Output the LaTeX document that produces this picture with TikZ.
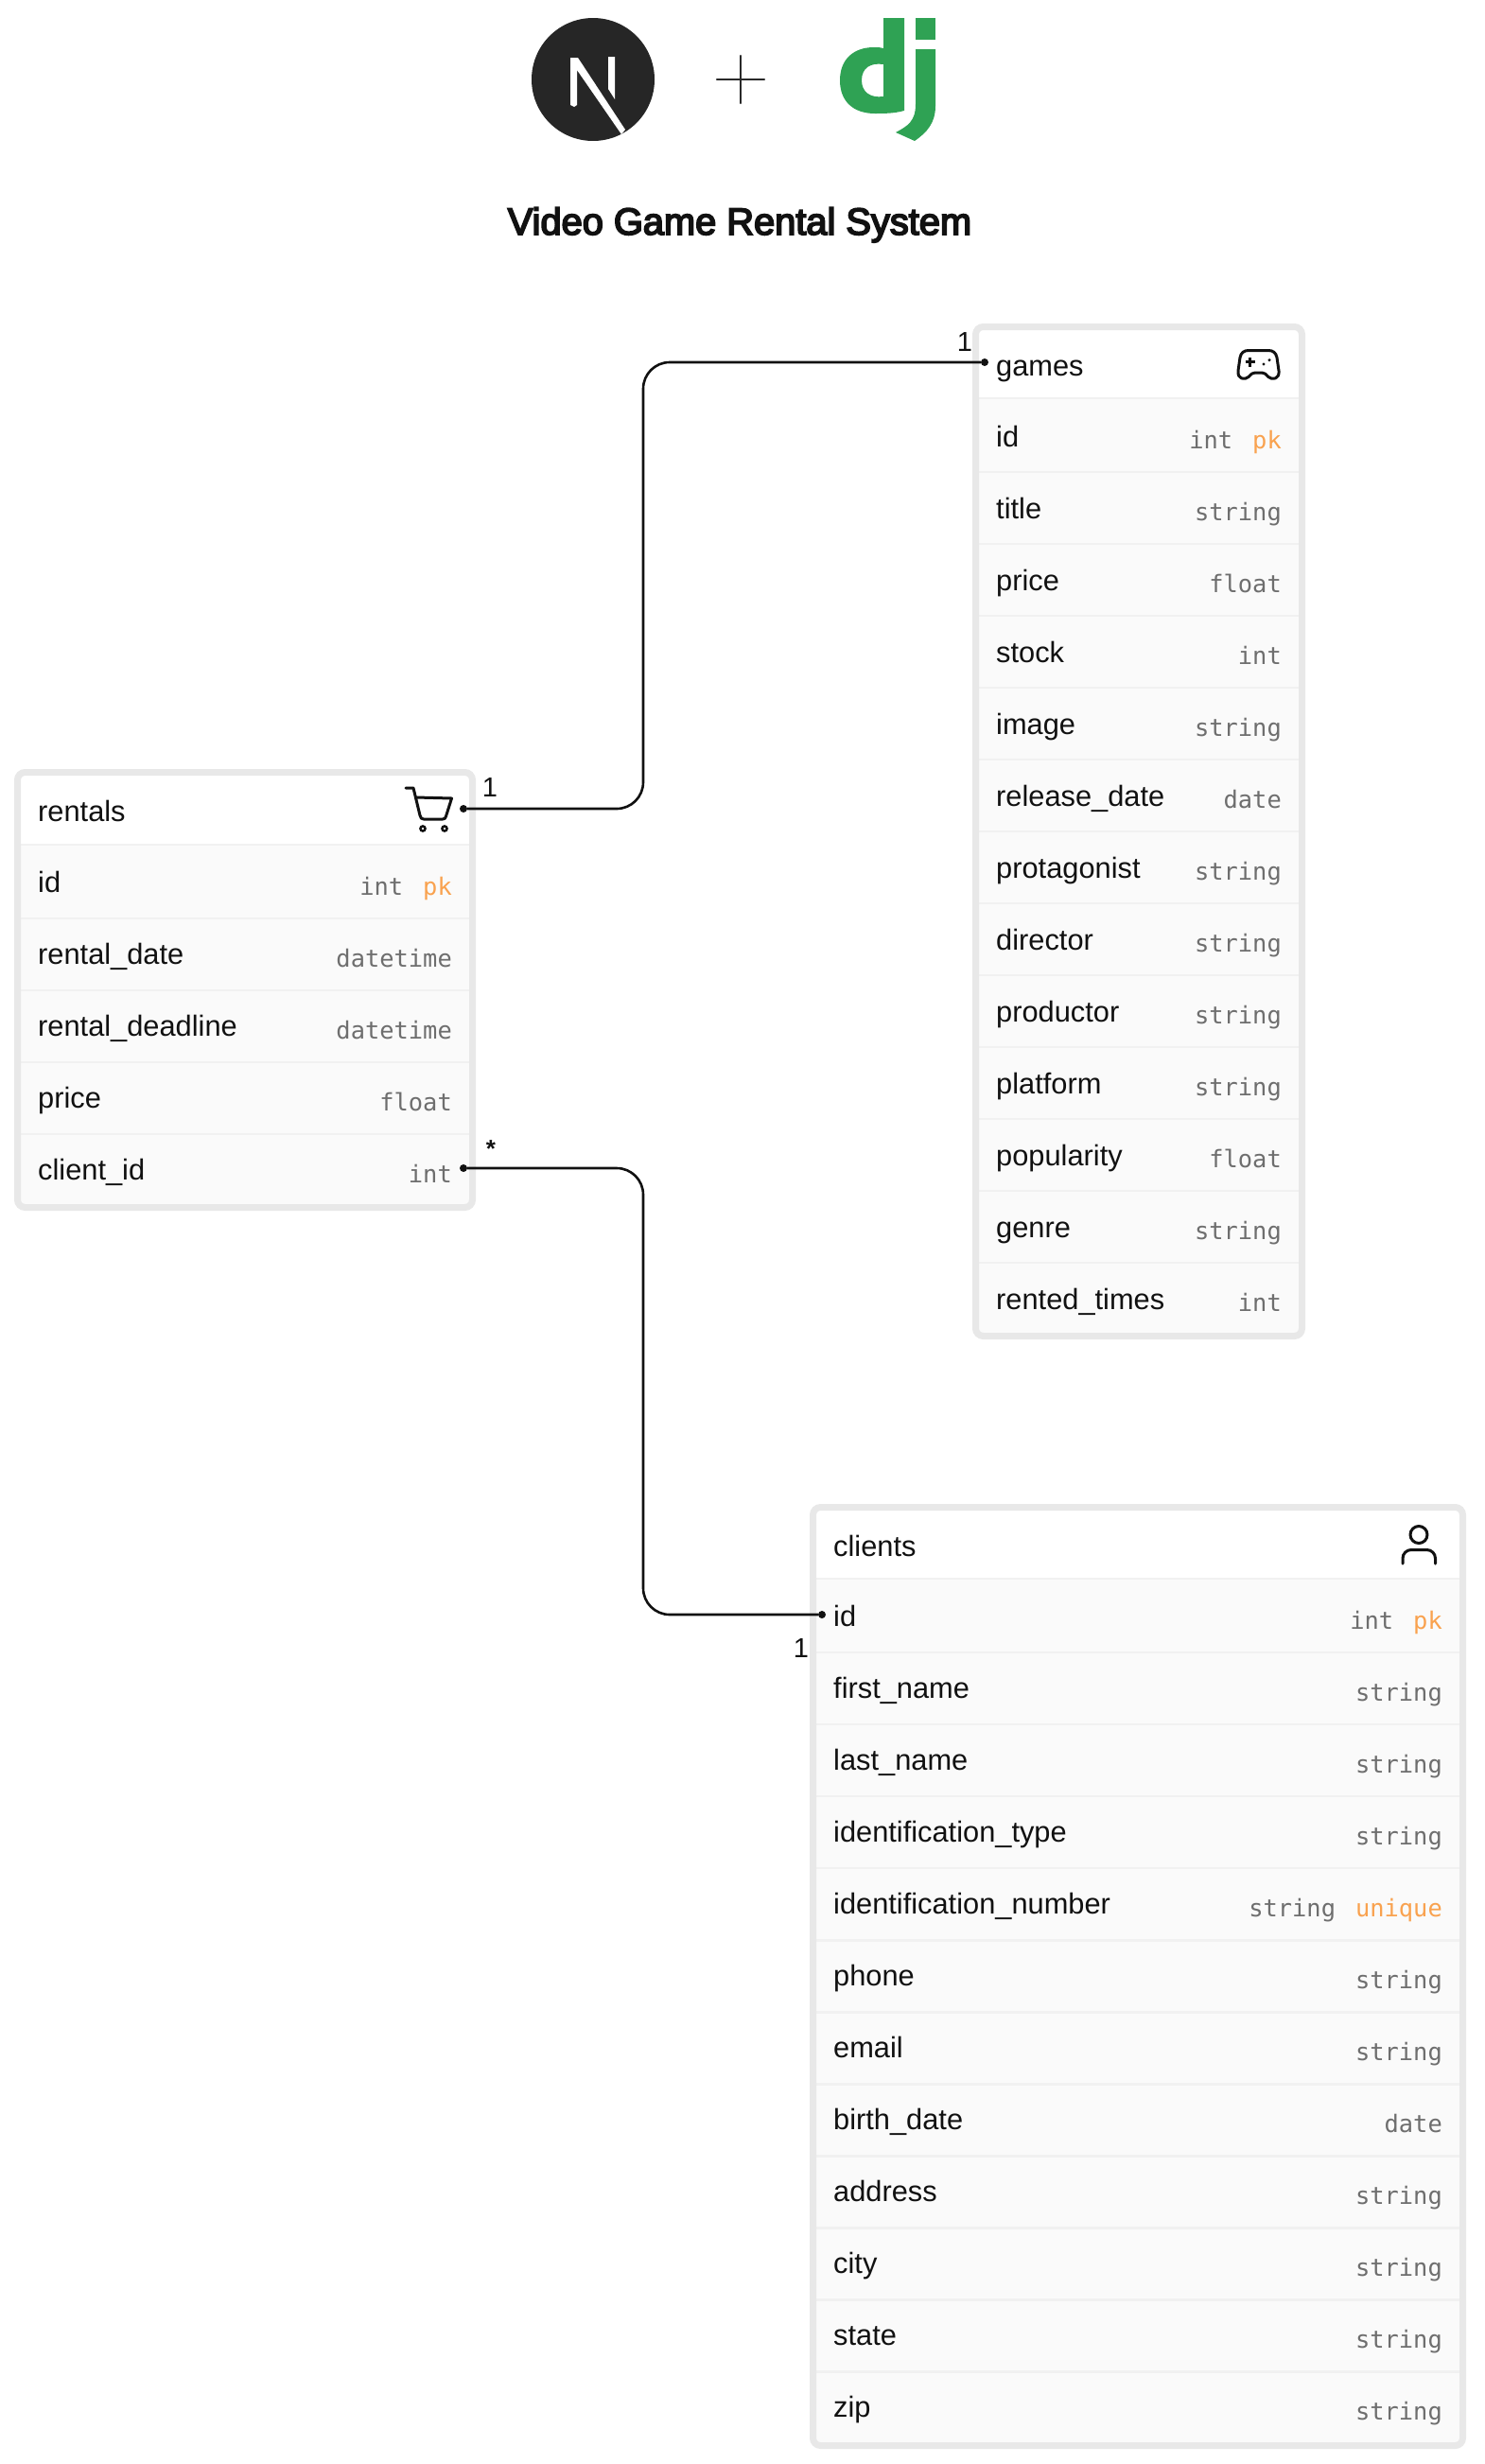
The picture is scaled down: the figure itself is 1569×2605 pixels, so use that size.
\documentclass[tikz,border=0pt]{standalone}
\usepackage{fontspec}
\setmainfont{Liberation Sans}
\newfontfamily\typefont{DejaVu Sans Mono}
\newfontfamily\titlefont[RawFeature={embolden=4.5}]{Liberation Sans}
\definecolor{inkblack}{HTML}{111111}
\definecolor{framegray}{HTML}{E8E8E8}
\definecolor{rowfill}{HTML}{FAFAFA}
\definecolor{rowline}{HTML}{F1F1F1}
\definecolor{typegray}{HTML}{6E6E6E}
\definecolor{keyorange}{HTML}{F9A24F}
\definecolor{djgreen}{HTML}{2FA254}
\newcommand{\keytag}[1]{\hspace{21pt}\textcolor{keyorange}{#1}}
\tikzset{
    namelabel/.style={anchor=base west,inner sep=0pt,text=inkblack,font=\fontsize{30.8}{32}\selectfont},
    typelabel/.style={anchor=base east,inner sep=0pt,text=typegray,font=\fontsize{25.4}{26}\selectfont\typefont},
    tablebox/.style={draw=framegray,line width=7pt,rounded corners=8pt,anchor=north west,inner sep=0pt,outer sep=0pt},
    enddot/.style={circle,fill=inkblack,inner sep=0pt,minimum size=8pt},
    relation/.style={draw=inkblack,line width=2.6pt,rounded corners=28pt},
    endlabel/.style={inner sep=0pt,text=inkblack,font=\fontsize{29}{30}\selectfont},
    iconline/.style={draw=inkblack,line width=3pt,line join=round,line cap=round}
}
\begin{document}
\begin{tikzpicture}[x=1pt,y=-1pt]
    \useasboundingbox (0,0) rectangle (1569,2605);
    % logos and title
    \fill[black!85] (627,84) circle (65);
    \fill[white] (603,61) -- (611,61) -- (661,137) -- (657,142) -- (610,74) -- (610,111) -- (607,113) -- (603,111) -- cycle;
    \fill[white] (643,60) -- (650,60) -- (650,105) -- (643,94) -- cycle;
    \draw[inkblack!90,line width=2.4pt,line cap=round] (758,84) -- (808,84) (783,59) -- (783,109);
    \fill[djgreen,even odd rule] (934,19) -- (956,19) -- (956,117) .. controls (945,120) and (935,120) .. (925,120)
        .. controls (902,120) and (888,107) .. (888,85) .. controls (888,63) and (902,50) .. (924,50)
        .. controls (928,50) and (931,50) .. (934,51) -- cycle
        (934,68) .. controls (920,66) and (911,72) .. (911,85) .. controls (911,97) and (920,104) .. (934,102) -- cycle;
    \fill[djgreen] (968,19) rectangle (989,42);
    \fill[djgreen] (968,52) -- (989,52) -- (989,112) .. controls (989,130) and (980,140) .. (967,149)
        -- (947,140) .. controls (960,133) and (968,128) .. (968,110) -- cycle;
    \node[anchor=base,inner sep=0pt,text=inkblack,font=\fontsize{39.8}{42}\selectfont\titlefont] (title) at (782,248) {Video Game Rental System};

    % games
    \fill[white] (1035,349) rectangle (1374,421);
    \fill[rowfill] (1035,421) rectangle (1374,1410);
    \node[namelabel] (gamesname) at (1053,397) {games};
    \foreach \fname/\ftype [count=\i from 0] in {id/int\keytag{pk},title/string,price/float,stock/int,image/string,release\_date/date,protagonist/string,director/string,productor/string,platform/string,popularity/float,genre/string,rented\_times/int} {
        \pgfmathsetmacro{\rowy}{421+76*\i}
        \pgfmathsetmacro{\liney}{\rowy+(\i>0)*2}
        \draw[rowline,line width=2.5pt] (1035,\liney) -- (1374,\liney);
        \node[namelabel] (gamesf\i) at (1053,\rowy+51) {\fname};
        \node[typelabel] (gamest\i) at (1355,\rowy+53) {\ftype};
    }
    \node[tablebox,minimum width=345pt,minimum height=1067pt] (games) at (1031.5,345.5) {};
    \draw[iconline] (1320,370.5) -- (1341,370.5) .. controls (1346,370.5) and (1349,373) .. (1350,378) -- (1352,392) .. controls (1353,401) and (1345,402) .. (1341,398.5) .. controls (1338,395.5) and (1337,394) .. (1334,394) -- (1327,394) .. controls (1324,394) and (1323,395.5) .. (1320,398.5) .. controls (1316,402) and (1308,401) .. (1309,392) -- (1311,378) .. controls (1312,373) and (1315,370.5) .. (1320,370.5) -- cycle;
    \draw[inkblack,line width=3pt] (1316.5,382.7) -- (1327,382.7) (1321.7,377.5) -- (1321.7,388);
    \fill[inkblack] (1336,385) circle (1.7) (1342,380.7) circle (1.7);

    % rentals
    \fill[white] (22,821) rectangle (497,893);
    \fill[rowfill] (22,893) rectangle (497,1273);
    \node[namelabel] (rentalsname) at (40,868) {rentals};
    \foreach \fname/\ftype [count=\i from 0] in {id/int\keytag{pk},rental\_date/datetime,rental\_deadline/datetime,price/float,client\_id/int} {
        \pgfmathsetmacro{\rowy}{893+76*\i}
        \pgfmathsetmacro{\liney}{\rowy+(\i>0)*2}
        \draw[rowline,line width=2.5pt] (22,\liney) -- (497,\liney);
        \node[namelabel] (rentalsf\i) at (40,\rowy+50) {\fname};
        \node[typelabel] (rentalst\i) at (478,\rowy+53) {\ftype};
    }
    \node[tablebox,minimum width=481pt,minimum height=460pt] (rentals) at (18.5,816.5) {};
    \draw[iconline] (429,833) -- (437,833) -- (444,862) .. controls (444.5,865) and (446,866) .. (448,866) -- (468,866) .. controls (470,866) and (471,865) .. (471.5,863) -- (477.5,844) -- (439.5,843);
    \draw[inkblack,line width=2.4pt] (447,876) circle (2.6) (470,876) circle (2.6);

    % clients
    \fill[white] (863,1597) rectangle (1544,1669);
    \fill[rowfill] (863,1669) rectangle (1544,2583);
    \node[namelabel] (clientsname) at (881,1645) {clients};
    \foreach \fname/\ftype [count=\i from 0] in {id/int\keytag{pk},first\_name/string,last\_name/string,identification\_type/string,identification\_number/string\keytag{unique},phone/string,email/string,birth\_date/date,address/string,city/string,state/string,zip/string} {
        \pgfmathsetmacro{\rowy}{1669+76.05*\i}
        \pgfmathsetmacro{\liney}{\rowy+(\i>0)*2}
        \draw[rowline,line width=2.5pt] (863,\liney) -- (1544,\liney);
        \node[namelabel] (clientsf\i) at (881,\rowy+50) {\fname};
        \node[typelabel] (clientst\i) at (1525,\rowy+53) {\ftype};
    }
    \node[tablebox,minimum width=687pt,minimum height=992pt] (clients) at (859.5,1593.5) {};
    \draw[iconline] (1500,1622.5) circle (9);
    \draw[iconline,rounded corners=9pt] (1483,1653) -- (1483,1638.5) -- (1517.5,1638.5) -- (1517.5,1653);

    % relations
    \node[enddot] (gamesdot) at (1041,383) {};
    \node[enddot] (rentalsdot) at (490,855) {};
    \node[enddot] (clientdot) at (490,1235) {};
    \node[enddot] (clientsdot) at (869,1707) {};
    \coordinate (busline) at (680,1000);
    \draw[relation] (rentalsdot) -- (rentalsdot -| busline) -- (gamesdot -| busline) -- (gamesdot);
    \draw[relation] (clientdot) -- (clientdot -| busline) -- (clientsdot -| busline) -- (clientsdot);
    \node[endlabel] (gamesone) at (1020,362) {1};
    \node[endlabel] (rentalsone) at (518,833) {1};
    \node[endlabel] (clientsone) at (847,1743) {1};
    \node[endlabel,font=\fontsize{26}{28}\selectfont\bfseries] (clientmany) at (519,1215) {*};
\end{tikzpicture}
\end{document}
